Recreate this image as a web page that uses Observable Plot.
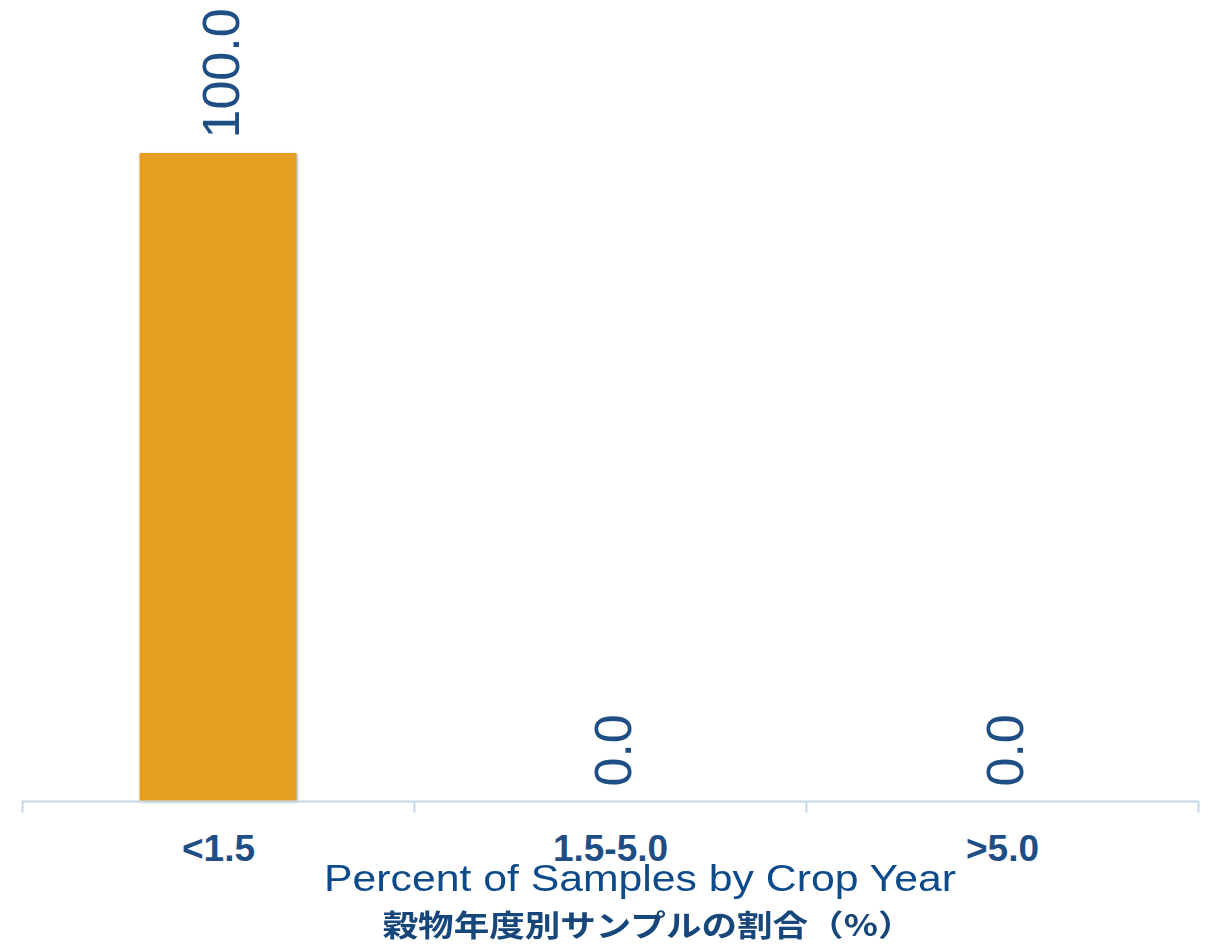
<!DOCTYPE html>
<html><head><meta charset="utf-8">
<script src="https://cdn.jsdelivr.net/npm/d3@7"></script>
<script src="https://cdn.jsdelivr.net/npm/@observablehq/plot@0.6"></script>
<style>
body{margin:0;background:#fff;}
#wrap{position:relative;width:1210px;height:946px;overflow:hidden;background:#fff;}
.t{position:absolute;width:1210px;text-align:center;white-space:nowrap;transform-origin:center center;}
#t1{left:35px;top:866px;font-family:'Liberation Sans',Arial,sans-serif;font-size:37px;line-height:26px;color:#0c4a89;transform:scaleX(1.155);}
#t2{left:43px;top:908px;font-family:'Noto Sans CJK JP',sans-serif;font-weight:bold;font-size:30px;line-height:30px;color:#17477a;transform:scaleX(1.185);}
g[aria-label="bar"] rect{filter:drop-shadow(1px 1px 1.5px rgba(0,0,0,0.35));}
</style></head><body>
<div id="wrap"><div id="chart"></div>
<div id="t1" class="t">Percent of Samples by Crop Year</div>
<div id="t2" class="t">穀物年度別サンプルの割合（%）</div></div>
<script>
const categories = ["<1.5", "1.5-5.0", ">5.0"];
const values = [100.0, 0.0, 0.0];
const valueLabels = ["100.0", "0.0", "0.0"];

const data = categories.map((c, i) => ({cat: c, value: values[i], label: valueLabels[i]}));
const W = 1210, mL = 22, mR = 12;
const step = (W - mL - mR) / categories.length;
const inset = step * 0.3;
const axisColor = "#c5d6eb";
const textColor = "#1f4e85";

const plot = Plot.plot({
  width: W, height: 862,
  marginLeft: mL, marginRight: mR, marginTop: 153, marginBottom: 61,
  style: {fontFamily: "'Liberation Sans', Arial, sans-serif", background: "#fff", overflow: "visible"},
  x: {domain: categories, padding: 0, label: null},
  y: {domain: [0, 100], axis: null},
  marks: [
    Plot.barY(data, {x: "cat", y: "value", fill: "#e59e1f", insetLeft: inset, insetRight: inset}),
    Plot.ruleY([0], {stroke: axisColor, strokeWidth: 2}),
    Plot.ruleX(categories, {x: d => d, dx: -step / 2, y1: 0, y2: -1.8, stroke: axisColor, strokeWidth: 2}),
    Plot.ruleX(categories.slice(-1), {x: d => d, dx: step / 2, y1: 0, y2: -1.8, stroke: axisColor, strokeWidth: 2}),
    Plot.axisX({tickSize: 0, tickPadding: 33, fontSize: 37, fontWeight: "bold", fill: textColor, label: null}),
    Plot.text(data, {x: "cat", y: "value", text: "label", rotate: -90, textAnchor: "start", lineAnchor: "middle",
      dx: 4, dy: -15, fontSize: 52, fill: textColor})
  ]
});
document.getElementById("chart").appendChild(plot);
</script>
</body></html>
